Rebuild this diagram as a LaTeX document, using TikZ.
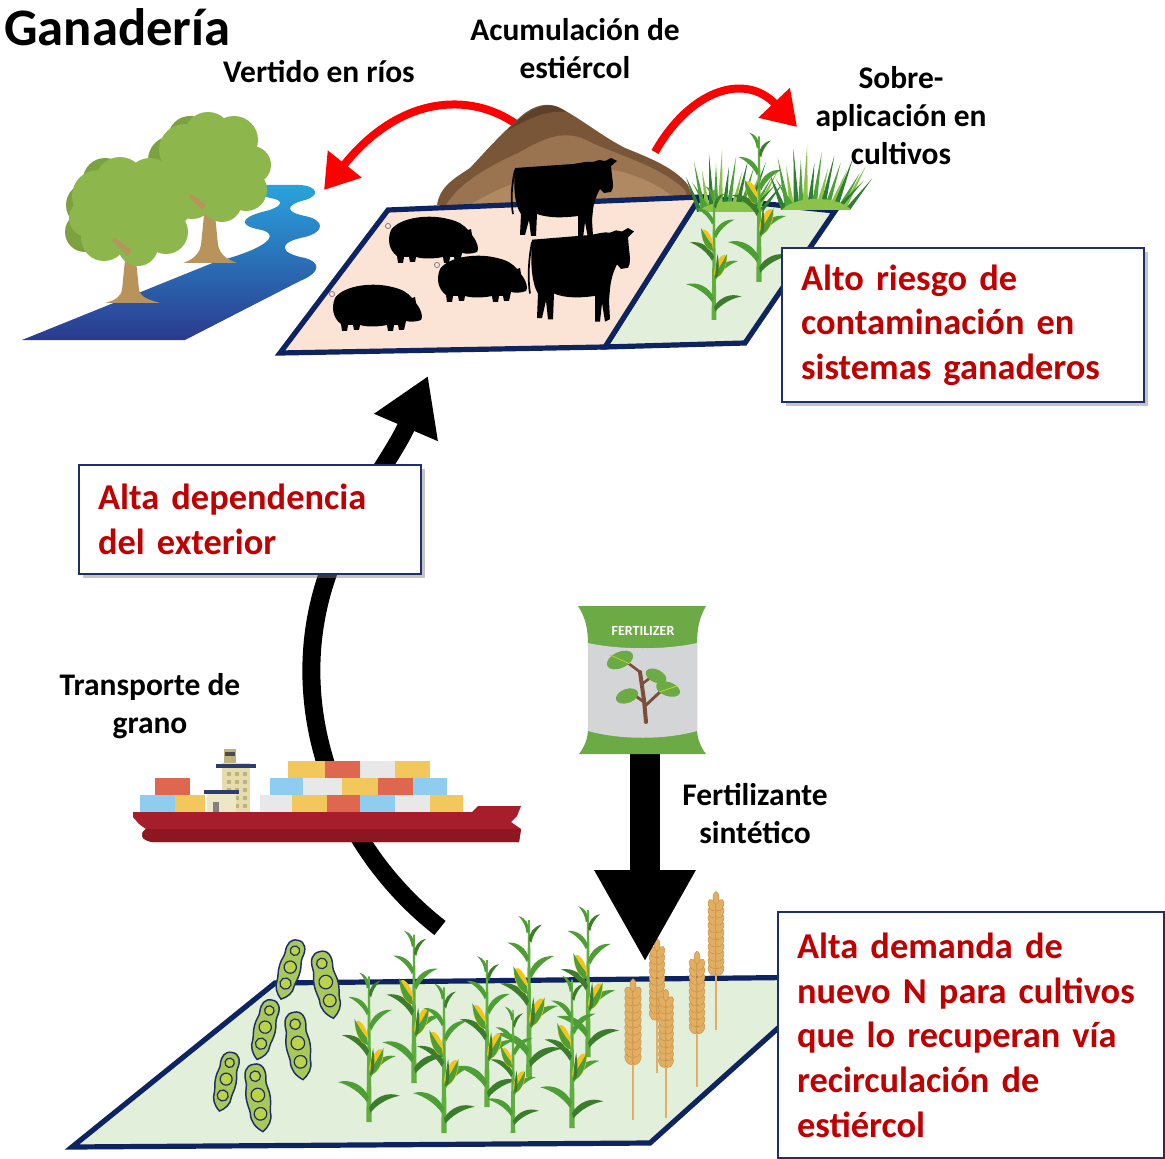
\documentclass[tikz,border=0pt]{standalone}
\usepackage{fontspec}
\setmainfont{Carlito}
\usetikzlibrary{arrows.meta,shadows}

\definecolor{fieldnavy}{HTML}{0E2461}
\definecolor{pinkfield}{HTML}{FBE4D5}
\definecolor{greenfield}{HTML}{E2EFDA}
\definecolor{redtxt}{HTML}{C00000}
\definecolor{boxnavy}{HTML}{1F2F6B}
\definecolor{arrred}{HTML}{FF0000}
\definecolor{riverdark}{HTML}{2B3A8F}
\definecolor{riverlight}{HTML}{29A3DD}
\definecolor{leafmain}{HTML}{8DB74D}
\definecolor{leafdark}{HTML}{7BA140}
\definecolor{trunkc}{HTML}{B8945A}
\definecolor{dung1}{HTML}{7A5638}
\definecolor{dung2}{HTML}{9A7450}
\definecolor{dung3}{HTML}{B08862}
\definecolor{dung4}{HTML}{5E412A}
\definecolor{stalkc}{HTML}{5FAE3E}
\definecolor{leafc}{HTML}{4E9E36}
\definecolor{leafdk}{HTML}{3B7D2C}
\definecolor{cobc}{HTML}{F4C31C}
\definecolor{grassd}{HTML}{2E7D32}
\definecolor{grassm}{HTML}{4CA03A}
\definecolor{grassl}{HTML}{8BC34A}
\definecolor{wheatc}{HTML}{E2AE62}
\definecolor{wheatd}{HTML}{C48C42}
\definecolor{podc}{HTML}{A9C85B}
\definecolor{podline}{HTML}{1F2F66}
\definecolor{hullred}{HTML}{A61E2B}
\definecolor{hulldark}{HTML}{8C1622}
\definecolor{cyell}{HTML}{F2C75C}
\definecolor{cred}{HTML}{E0674F}
\definecolor{cblue}{HTML}{8ECDF0}
\definecolor{cgrey}{HTML}{E8E8E8}
\definecolor{beige}{HTML}{E6DCAE}
\definecolor{beigedk}{HTML}{BFB27D}
\definecolor{bridgenavy}{HTML}{2D3E6E}
\definecolor{baggreen}{HTML}{6CAA45}
\definecolor{baggrey}{HTML}{D3D5D7}
\definecolor{stembrown}{HTML}{7A4E3A}

% ---------- reusable drawings (local pixel coordinates) ----------
\newcommand\pigat[1]{%
  \begin{scope}[shift={#1}]
    \fill[black] (3,14) .. controls (12,1) and (42,-2) .. (60,3)
      .. controls (70,5) and (76,9) .. (80,14) -- (83,13) -- (84,19)
      .. controls (87,23) and (90,28) .. (90,33) -- (89,36)
      .. controls (84,38) and (78,38) .. (74,37) -- (72,46) -- (67,46)
      -- (66,41) -- (62,41) -- (61,47) -- (56,47) -- (55,41)
      .. controls (45,43) and (35,43) .. (28,41) -- (27,46) -- (22,46)
      -- (21,41) -- (16,41) -- (15,47) -- (10,47) -- (9,40)
      .. controls (1,34) and (-1,24) .. (3,14) -- cycle;
    \draw[gray, line width=0.6pt] (0,10) circle (2.6);
  \end{scope}}

\newcommand\cowat[2]{%
  \begin{scope}[shift={#1},#2]
    \fill[black] (2,10) -- (60,6) .. controls (68,5) and (74,3) .. (80,4)
      -- (86,2) -- (92,3) -- (98,0) -- (104,3) -- (98,8) -- (99,18)
      .. controls (100,25) and (101,30) .. (98,34) -- (91,35) -- (87,31)
      .. controls (83,38) and (81,44) .. (80,52) -- (79,62) -- (80,78)
      -- (75,80) -- (72,64) -- (70,80) -- (65,80) -- (65,58)
      .. controls (50,60) and (35,60) .. (24,56) -- (23,78) -- (18,78)
      -- (16,62) -- (12,77) -- (7,77) -- (8,56)
      .. controls (2,48) and (0,30) .. (2,10) -- cycle;
    \draw[black, line width=1.3pt] (2,12) .. controls (-2,30) and (-2,45) .. (0,56);
  \end{scope}}

% one leaf blade pointing right
\newcommand\cleaf[2]{%
  \begin{scope}[#1]
    \fill[#2] (0,0) .. controls (8,-8) and (20,-10) .. (30,-3)
      .. controls (20,-4) and (8,-1) .. (0,5) -- cycle;
  \end{scope}}

% a maize plant, base at #1, scale #2
\newcommand\cornat[2]{%
  \begin{scope}[shift={#1},scale=#2]
    \fill[stalkc] (-2.6,0) -- (2.6,0) -- (0.8,-140) -- (-0.8,-140) -- cycle;
    \cleaf{shift={(0,-14)},rotate=15,scale=1.05}{leafdk}
    \cleaf{shift={(0,-24)},xscale=-1,rotate=20,scale=1.1}{leafc}
    \cleaf{shift={(0,-48)},rotate=25,scale=1.0}{leafc}
    \cleaf{shift={(0,-68)},xscale=-1,rotate=25,scale=1.0}{leafdk}
    \cleaf{shift={(0,-92)},rotate=30,scale=0.9}{leafc}
    \cleaf{shift={(0,-106)},xscale=-1,rotate=30,scale=0.8}{leafc}
    \cleaf{shift={(0,-122)},rotate=45,scale=0.6}{leafdk}
    \cleaf{shift={(0,-130)},xscale=-1,rotate=50,scale=0.55}{leafc}
    % cobs with husks
    \fill[cobc, rotate around={-22:(7,-58)}] (7,-58) ellipse (5.2 and 13);
    \fill[leafc] (1,-45) .. controls (8,-47) and (13,-55) .. (14,-71)
      .. controls (8,-60) and (5,-55) .. (2,-52) -- cycle;
    \fill[leafdk] (1,-45) .. controls (2,-55) and (2,-62) .. (4,-71)
      .. controls (5,-62) and (6,-55) .. (4,-47) -- cycle;
    \fill[cobc, rotate around={22:(-7,-86)}] (-7,-86) ellipse (4.8 and 12);
    \fill[leafc] (-1,-74) .. controls (-8,-76) and (-13,-84) .. (-14,-99)
      .. controls (-8,-89) and (-5,-84) .. (-2,-81) -- cycle;
  \end{scope}}

% a wheat ear, base at #1, scale #2
\newcommand\wheatat[2]{%
  \begin{scope}[shift={#1},scale=#2]
    \draw[wheatc, line width=1.4pt] (0,0) -- (0,-62);
    \foreach \k in {0,...,9}{
      \pgfmathsetmacro\yy{-60-7.2*\k}
      \filldraw[fill=wheatc, draw=wheatd, line width=0.3pt,
        rotate around={25:(-3.8,\yy)}] (-3.8,\yy) ellipse (3.7 and 6.2);
      \filldraw[fill=wheatc, draw=wheatd, line width=0.3pt,
        rotate around={-25:(3.8,\yy)}] (3.8,\yy) ellipse (3.7 and 6.2);
    }
    \filldraw[fill=wheatc, draw=wheatd, line width=0.3pt] (0,-132) ellipse (3 and 6.5);
  \end{scope}}

% a pea pod centred at #1, turned by #2, scale #3
\newcommand\podat[3]{%
  \begin{scope}[shift={#1},rotate=#2,scale=#3]
    \filldraw[fill=podc, draw=podline, line width=1.1pt]
      (0,-32) .. controls (9,-33) and (12,-24) .. (10,-15)
      .. controls (9,-10) and (12,-6) .. (12,2)
      .. controls (12,10) and (10,14) .. (10,18)
      .. controls (11,26) and (6,32) .. (0,36)
      .. controls (-7,31) and (-11,24) .. (-10,16)
      .. controls (-10,12) and (-12,8) .. (-12,0)
      .. controls (-12,-8) and (-9,-12) .. (-10,-16)
      .. controls (-11,-25) and (-8,-32) .. (0,-32) -- cycle;
    \filldraw[fill=podc!80!yellow, draw=podline, line width=0.9pt] (0,-20) circle (5.3);
    \filldraw[fill=podc!80!yellow, draw=podline, line width=0.9pt] (0,-1) circle (6.8);
    \filldraw[fill=podc!80!yellow, draw=podline, line width=0.9pt] (0,18) circle (6.3);
  \end{scope}}

% a clump of grass, base left at #1, scale #2
\newcommand\grassat[2]{%
  \begin{scope}[shift={#1},scale=#2]
    \foreach \b/\t/\h/\c in {0/-14/35/grassd, 4/-10/50/grassm, 8/-6/42/grassl,
        12/-3/58/grassd, 16/0/48/grassm, 20/2/62/grassl, 24/5/45/grassd,
        28/8/55/grassm, 32/10/40/grassl, 36/12/52/grassd, 40/14/45/grassm,
        44/16/38/grassl, 48/18/50/grassd, 52/20/35/grassm, 56/22/42/grassl,
        60/24/30/grassd, 10/-18/30/grassm, 50/26/28/grassd}{
      \fill[\c] (\b-2.8,0) -- (\b+\t,-\h) -- (\b+2.8,0) -- cycle;
    }
    \fill[grassl] (-2,0) .. controls (10,-14) and (52,-14) .. (64,0) -- cycle;
  \end{scope}}

\begin{document}
\begin{tikzpicture}[x=0.75pt,y=-0.75pt,
  lbl/.style={inner sep=0pt, align=center, font=\bfseries\fontsize{23.6}{28.5}\selectfont},
  alertbox/.style={anchor=north west, draw=boxnavy, line width=1.6pt, fill=white,
    text=redtxt, align=left, inner xsep=14.25pt, inner ysep=0pt,
    font=\bfseries\fontsize{27.3}{33.5}\selectfont,
    drop shadow={shadow xshift=2.6pt, shadow yshift=-2.6pt, opacity=0.45}},
  fieldedge/.style={draw=fieldnavy, line width=3.9pt, line join=miter},
  redarrow/.style={draw=arrred, line width=6pt, -{Triangle[width=31pt,length=25pt]}},
  bigarrow/.style={draw=black, line width=#1},
]
\useasboundingbox (0,0) rectangle (1165,1159);
\fill[white] (0,0) rectangle (1165,1159);

% ---------- river ----------
\shade[bottom color=riverdark, top color=riverlight]
  (22,340) -- (185,340) -- (300,281)
  .. controls (322,272) and (320,262) .. (305,258)
  .. controls (278,253) and (278,242) .. (305,237)
  .. controls (325,232) and (325,220) .. (305,216)
  .. controls (285,212) and (285,205) .. (305,200)
  .. controls (320,196) and (318,186) .. (300,185)
  -- (257,185)
  .. controls (250,190) and (262,197) .. (275,199)
  .. controls (285,202) and (280,208) .. (262,212)
  .. controls (240,218) and (238,226) .. (262,230)
  .. controls (282,236) and (262,250) .. (215,262)
  -- cycle;

% ---------- trees ----------
\fill[trunkc] (205,205) -- (214,205) -- (218,245) .. controls (220,255) and (228,260) .. (237,263)
  -- (183,263) .. controls (195,259) and (200,252) .. (201,245) -- cycle;
\foreach \cx/\cy/\r in {172/160/24, 190/138/22, 168/185/20}{\fill[leafdark] (\cx,\cy) circle (\r);}
\foreach \cx/\cy/\r in {185/150/26, 208/136/24, 234/140/24, 252/165/19, 246/190/21,
  222/202/20, 192/196/23, 176/176/20, 212/168/34}{\fill[leafmain] (\cx,\cy) circle (\r);}
\fill[trunkc] (202,210) -- (188,196) -- (191,194) -- (206,205) -- cycle;

\fill[trunkc] (126,250) -- (135,250) -- (139,290) .. controls (141,298) and (150,300) .. (160,303)
  -- (105,303) .. controls (116,300) and (121,296) .. (122,290) -- cycle;
\foreach \cx/\cy/\r in {88/205/22, 105/180/22, 85/232/20}{\fill[leafdark] (\cx,\cy) circle (\r);}
\foreach \cx/\cy/\r in {98/196/26, 120/182/25, 150/182/24, 172/206/20, 166/232/22,
  138/246/20, 104/238/23, 88/218/19, 130/212/34}{\fill[leafmain] (\cx,\cy) circle (\r);}
\fill[trunkc] (128,256) -- (112,240) -- (115,238) -- (131,250) -- cycle;

% ---------- red flows out of the manure heap ----------
\coordinate (pileL) at (516,124);
\coordinate (riverTip) at (324,190);
\coordinate (pileR) at (655,152);
\coordinate (cropTip) at (797,127);
\draw[redarrow] (pileL) .. controls (470,92) and (400,95) .. (riverTip);
\draw[redarrow] (pileR) .. controls (690,90) and (745,72) .. (cropTip);

% ---------- manure heap ----------
\fill[dung1] (437,205) .. controls (440,186) and (455,178) .. (470,168)
  .. controls (485,152) and (500,135) .. (515,122)
  .. controls (528,108) and (545,100) .. (560,108)
  .. controls (580,118) and (600,135) .. (625,148)
  .. controls (650,158) and (675,168) .. (688,185) -- (696,205) -- cycle;
\fill[dung2] (446,205) .. controls (460,182) and (490,166) .. (520,152)
  .. controls (545,138) and (565,128) .. (590,142)
  .. controls (620,156) and (660,166) .. (685,190) -- (690,205) -- cycle;
\fill[dung3] (470,205) .. controls (500,186) and (540,172) .. (580,167)
  .. controls (620,166) and (660,182) .. (682,205) -- cycle;
\fill[dung4] (508,130) .. controls (528,108) and (550,98) .. (566,112)
  .. controls (546,110) and (530,118) .. (508,130) -- cycle;

% ---------- livestock yard and its crop strip ----------
\filldraw[fieldedge, fill=greenfield] (700,197) -- (835,211) -- (745,343) -- (605,347) -- cycle;
\filldraw[fieldedge, fill=pinkfield] (388,210) -- (700,197) -- (605,347) -- (280,353) -- cycle;

\grassat{(700,212)}{1.0}
\grassat{(784,210)}{1.05}
\cornat{(759,282)}{1.04}
\cornat{(714,320)}{0.93}

\cowat{(513,158)}{}
\pigat{(388,216)}
\pigat{(437,255)}
\pigat{(332,284)}
\cowat{(530,228)}{yscale=1.17}

% ---------- caption boxes, upper part ----------
\node[alertbox, minimum width=271.5pt, minimum height=115.5pt, text width=243pt]
  (riesgo) at (781,247) {Alto riesgo de\\contaminación en\\sistemas ganaderos};

% ---------- grain import arrow ----------
\coordinate (grainStart) at (440,928);
\coordinate (grainTip) at (428,376);
\draw[bigarrow=13.5pt, -{Triangle[width=49pt,length=42pt]}] (grainStart)
  .. controls (340,850) and (290,720) .. (320,600)
  .. controls (340,520) and (392,460) .. (grainTip);

\node[alertbox, minimum width=256.5pt, minimum height=81.75pt, text width=228pt]
  (dependencia) at (78,464) {Alta dependencia\\del exterior};

% ---------- container ship ----------
\fill[hullred] (133,812) -- (472,812) -- (478,806) -- (521,806) -- (517,816)
  -- (511,822) -- (521,829) -- (519,842) -- (152,842)
  .. controls (141,840) and (139,834) .. (146,829) -- (139,824) -- (133,817) -- cycle;
\fill[hulldark] (146,829) -- (521,829) -- (519,842) -- (152,842)
  .. controls (141,840) and (139,834) .. (146,829) -- cycle;
% bottom row
\foreach \a/\b/\c in {140/175/cblue, 175/205/cyell, 260/292/cgrey, 292/327/cyell,
  327/360/cred, 360/395/cblue, 395/430/cgrey, 430/463/cyell}{
  \fill[\c] (\a,795) rectangle (\b,812);}
% second row
\foreach \a/\b/\c in {155/190/cred, 270/303/cblue, 303/342/cgrey, 342/378/cyell,
  378/413/cred, 413/447/cblue}{
  \fill[\c] (\a,778) rectangle (\b,795);}
% third row
\foreach \a/\b/\c in {288/325/cyell, 325/360/cred, 360/395/cgrey, 395/430/cyell}{
  \fill[\c] (\a,761) rectangle (\b,778);}
% bridge
\fill[beigedk] (224,749) rectangle (236,763);
\fill[black!70] (225,752) rectangle (235,756);
\fill[beige] (222,763) rectangle (250,812);
\fill[bridgenavy] (216,764) rectangle (256,768);
\foreach \wy in {772,780,788,796,804}{
  \foreach \wx in {227,235,243}{\fill[beigedk] (\wx,\wy) rectangle (\wx+4,\wy+4);}}
\fill[beige!70!white] (207,793) rectangle (236,812);
\fill[bridgenavy] (204,790) rectangle (239,794);
\fill[gray] (213,802) rectangle (219,812);

% ---------- crop field ----------
\filldraw[fieldedge, fill=greenfield] (275,983) -- (835,977) -- (650,1143) -- (72,1147) -- cycle;

\podat{(290,968)}{-16}{0.9}
\podat{(326,983)}{12}{1.0}
\podat{(265,1028)}{-14}{0.9}
\podat{(298,1044)}{8}{1.0}
\podat{(226,1080)}{-12}{0.88}
\podat{(258,1096)}{8}{1.0}

\cornat{(588,1057)}{1.05}
\cornat{(529,1077)}{1.12}
\cornat{(414,1083)}{1.06}
\cornat{(487,1107)}{1.05}
\cornat{(369,1122)}{1.04}
\cornat{(572,1128)}{1.06}
\cornat{(444,1133)}{1.04}
\cornat{(513,1133)}{0.88}

\wheatat{(716,1030)}{1.0}
\wheatat{(657,1073)}{0.97}
\wheatat{(697,1087)}{0.98}
\wheatat{(666,1118)}{0.93}
\wheatat{(633,1120)}{1.02}

% ---------- fertiliser bag and its arrow ----------
\coordinate (bagBottom) at (645,750);
\coordinate (fertTip) at (645,962);
\draw[bigarrow=22.5pt, -{Triangle[width=71pt,length=69pt]}] (bagBottom) -- (fertTip);

\fill[baggreen] (578,606) -- (706,606) .. controls (699,618) and (697,630) .. (697,645)
  -- (697,728) .. controls (697,738) and (700,746) .. (706,754) -- (579,754)
  .. controls (585,746) and (588,738) .. (588,728) -- (588,645)
  .. controls (588,630) and (586,618) .. (578,606) -- cycle;
\fill[baggrey] (588,643) .. controls (620,650) and (665,650) .. (697,643)
  -- (697,731) .. controls (665,740) and (620,740) .. (588,731) -- cycle;
\node[font=\bfseries\fontsize{10.5}{12}\selectfont, text=white, inner sep=0pt]
  (bagLabel) at (643,631) {FERTILIZER};
\draw[stembrown, line width=3pt, line cap=round] (646,722) -- (644,700) -- (640,672);
\draw[stembrown, line width=2.2pt, line cap=round] (644,702) -- (630,692);
\draw[stembrown, line width=2.2pt, line cap=round] (645,706) -- (660,692);
\draw[stembrown, line width=2pt, line cap=round] (642,684) -- (654,675);
\draw[stembrown, line width=2pt, line cap=round] (640,672) -- (628,663);
\fill[baggreen, rotate around={25:(620,660)}] (620,660) ellipse (14 and 8);
\fill[baggreen, rotate around={-25:(656,676)}] (656,676) ellipse (11 and 6.5);
\fill[baggreen, rotate around={-20:(668,689)}] (668,689) ellipse (12.5 and 7);
\fill[baggreen, rotate around={20:(627,696)}] (627,696) ellipse (11.5 and 7);
\draw[yellow!70!green, line width=0.6pt] (610,655) -- (630,664);
\draw[yellow!70!green, line width=0.6pt] (659,692) -- (677,686);

\node[alertbox, minimum width=289.5pt, minimum height=184.5pt, text width=261pt]
  (demanda) at (777,911) {Alta demanda de\\nuevo N para cultivos\\que lo recuperan vía\\recirculación de\\estiércol};

% ---------- labels ----------
\node[anchor=base west, inner sep=0pt, font=\bfseries\fontsize{39.5}{47}\selectfont]
  (titulo) at (4,46) {Ganadería};
\node[lbl] (vertido) at (319,72) {Vertido en ríos};
\node[lbl] (acumulacion) at (575,49) {Acumulación de\\estiércol};
\node[lbl] (sobre) at (901,116) {Sobre-\\aplicación en\\cultivos};
\node[lbl] (transporte) at (150,706) {Transporte de\\grano};
\node[lbl] (fertilizante) at (755,814) {Fertilizante\\sintético};
\end{tikzpicture}
\end{document}
